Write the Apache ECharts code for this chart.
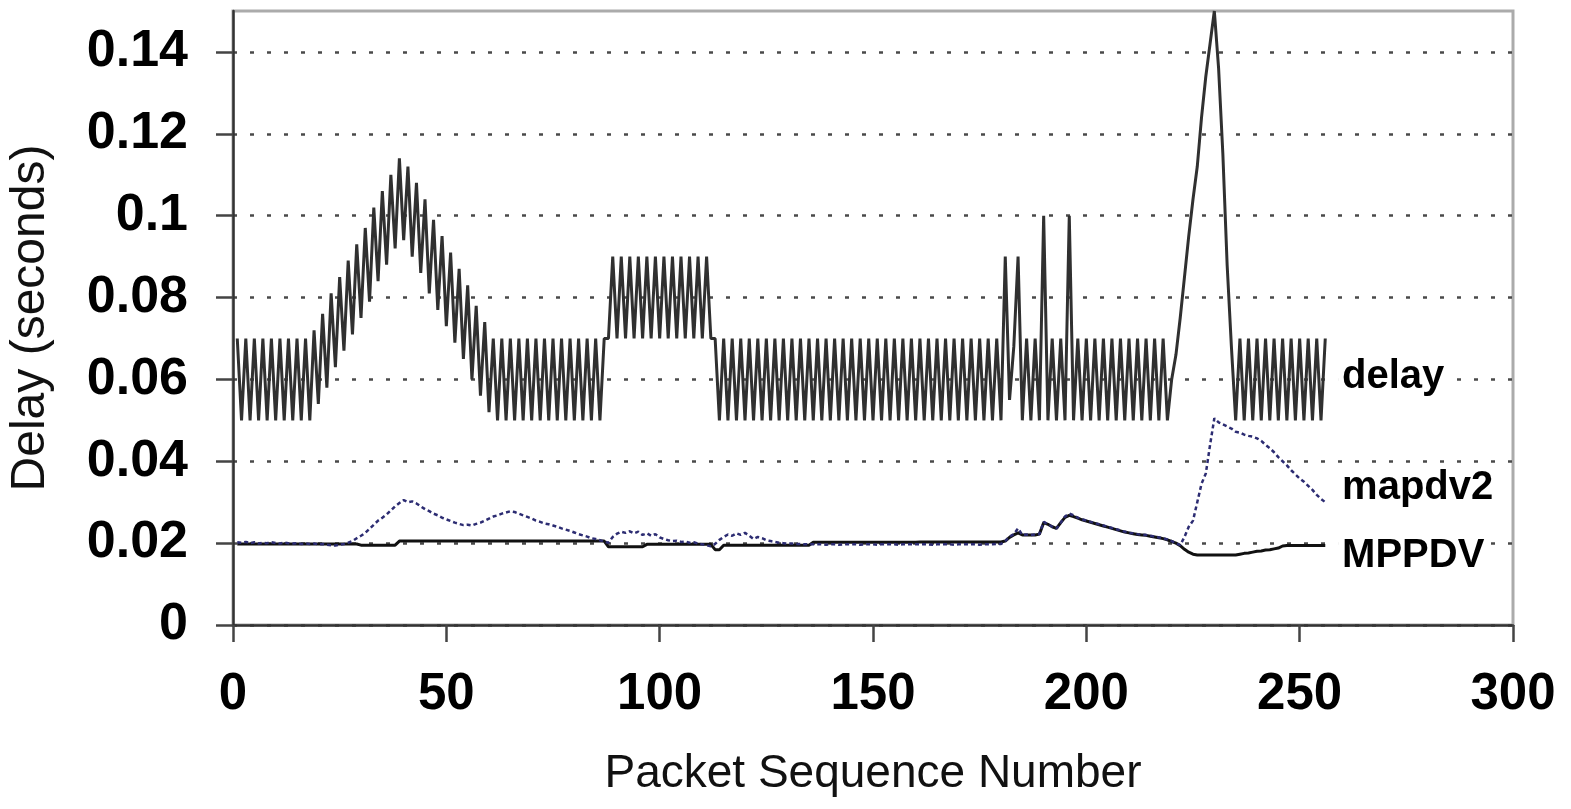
<!DOCTYPE html>
<html>
<head>
<meta charset="utf-8">
<script src="https://cdn.jsdelivr.net/npm/echarts@6/dist/echarts.min.js"></script>
<style>
  html, body { margin: 0; padding: 0; background: #fff; }
  #chart { width: 1571px; height: 809px; }
</style>
</head>
<body>
<div id="chart"></div>
<script>
// delay per packet (seconds), packets 1..256
const delay = [
  .07,.05,.07,.05,.07,.05,.07,.05,.07,.05,.07,.05,.07,.05,.07,.05,
  .07,.05,.072,.054,.076,.058,.081,.063,.085,.067,.089,.071,.093,.075,.097,.079,
  .102,.084,.106,.088,.110,.092,.114,.094,.112,.090,.108,.086,.104,.081,.099,.077,
  .095,.073,.091,.069,.087,.065,.083,.060,.078,.056,.074,.052,.070,.05,.07,.05,
  .07,.05,.07,.05,.07,.05,.07,.05,.07,.05,.07,.05,.07,.05,.07,.05,
  .07,.05,.07,.05,.07,.05,.07,.07,.09,.07,.09,.07,.09,.07,.09,.07,
  .09,.07,.09,.07,.09,.07,.09,.07,.09,.07,.09,.07,.09,.07,.09,.07,
  .07,.05,.07,.05,.07,.05,.07,.05,.07,.05,.07,.05,.07,.05,.07,.05,
  .07,.05,.07,.05,.07,.05,.07,.05,.07,.05,.07,.05,.07,.05,.07,.05,
  .07,.05,.07,.05,.07,.05,.07,.05,.07,.05,.07,.05,.07,.05,.07,.05,
  .07,.05,.07,.05,.07,.05,.07,.05,.07,.05,.07,.05,.07,.05,.07,.05,
  .07,.05,.07,.05,.09,.055,.068,.09,.05,.07,.05,.07,.05,.10,.05,.07,
  .05,.07,.05,.10,.05,.07,.05,.07,.05,.07,.05,.07,.05,.07,.05,.07,
  .05,.07,.05,.07,.05,.07,.05,.07,.05,.07,.05,.06,.066,.075,.085,.095,
  .104,.112,.124,.134,.142,.15,.136,.115,.088,.068,.05,.07,.05,.07,.05,.07,
  .05,.07,.05,.07,.05,.07,.05,.07,.05,.07,.05,.07,.05,.07,.05,.07,
];

const mapdv2 = [
  .0202,.0201,.0203,.0200,.0202,.0199,.0201,.0200,.0202,.0200,.0199,.0201,.0200,.0199,.0200,.0198,
  .0199,.0198,.0199,.0197,.0198,.0196,.0195,.0194,.0196,.0198,.0201,.0205,.0212,.0218,.0225,.0235,
  .0245,.0255,.0262,.0270,.0280,.0290,.0298,.0305,.0300,.0302,.0297,.0290,.0283,.0278,.0272,.0268,
  .0262,.0258,.0254,.0250,.0247,.0244,.0245,.0243,.0247,.0250,.0255,.0260,.0265,.0268,.0272,.0275,
  .0278,.0276,.0272,.0268,.0264,.0260,.0255,.0252,.0248,.0246,.0243,.0240,.0236,.0233,.0230,.0226,
  .0222,.0219,.0216,.0212,.0210,.0207,.0204,.0201,.0215,.0223,.0228,.0225,.0229,.0224,.0228,.0220,
  .0224,.0218,.0222,.0214,.0210,.0207,.0205,.0206,.0203,.0204,.0201,.0202,.0199,.0197,.0195,.0192,
  .0198,.0208,.0215,.0221,.0218,.0224,.0220,.0225,.0218,.0210,.0215,.0212,.0207,.0205,.0203,.0201,
  .0200,.0199,.0199,.0198,.0198,.0197,.0197,.0197,.0197,.0197,.0196,.0197,.0197,.0196,.0197,.0197,
  .0197,.0197,.0196,.0197,.0197,.0197,.0196,.0197,.0197,.0197,.0197,.0196,.0197,.0197,.0197,.0197,
  .0197,.0197,.0197,.0196,.0197,.0197,.0197,.0197,.0196,.0197,.0197,.0197,.0197,.0197,.0196,.0197,
  .0197,.0197,.0198,.0198,.0205,.0216,.0222,.0236,.0220,.0221,.0220,.0221,.0222,.0252,.0246,.0240,
  .0236,.0250,.0265,.0272,.0268,.0262,.0258,.0255,.0252,.0249,.0246,.0243,.0240,.0237,.0234,.0231,
  .0228,.0225,.0224,.0222,.0221,.0220,.0218,.0216,.0214,.0212,.0209,.0205,.0200,.0195,.0215,.0240,
  .0255,.0300,.0345,.0370,.0440,.0505,.0495,.0490,.0485,.0480,.0472,.0470,.0465,.0462,.0460,.0456,
  .0450,.0440,.0432,.0422,.0410,.0400,.0390,.0378,.0368,.0358,.0350,.0340,.0330,.0318,.0308,.0300,
];

const mppdv = [
  .0198,.0198,.0198,.0198,.0198,.0198,.0198,.0198,.0198,.0198,.0198,.0198,.0198,.0198,.0198,.0198,
  .0198,.0198,.0198,.0198,.0198,.0198,.0198,.0198,.0198,.0198,.0198,.0198,.0198,.0195,.0195,.0195,
  .0195,.0195,.0195,.0195,.0195,.0195,.0205,.0205,.0205,.0205,.0205,.0205,.0205,.0205,.0205,.0205,
  .0205,.0205,.0205,.0205,.0205,.0205,.0205,.0205,.0205,.0205,.0205,.0205,.0205,.0205,.0205,.0205,
  .0205,.0205,.0205,.0205,.0205,.0205,.0205,.0205,.0205,.0205,.0205,.0205,.0205,.0205,.0205,.0205,
  .0205,.0205,.0205,.0205,.0205,.0205,.0205,.0191,.0191,.0191,.0191,.0191,.0191,.0191,.0191,.0191,
  .0197,.0197,.0197,.0197,.0197,.0197,.0197,.0197,.0197,.0197,.0197,.0197,.0197,.0197,.0197,.0197,
  .0184,.0184,.0195,.0195,.0195,.0195,.0195,.0195,.0195,.0195,.0195,.0195,.0195,.0195,.0195,.0195,
  .0195,.0195,.0195,.0195,.0195,.0195,.0195,.0202,.0202,.0202,.0202,.0202,.0202,.0202,.0202,.0202,
  .0202,.0202,.0202,.0202,.0202,.0202,.0202,.0202,.0202,.0202,.0202,.0202,.0202,.0202,.0202,.0202,
  .0203,.0203,.0203,.0203,.0203,.0203,.0203,.0203,.0203,.0203,.0203,.0203,.0203,.0203,.0203,.0203,
  .0203,.0203,.0203,.0203,.0205,.0214,.0220,.0225,.0220,.0220,.0220,.0220,.0222,.0250,.0246,.0240,
  .0236,.0250,.0263,.0268,.0265,.0261,.0257,.0254,.0251,.0248,.0245,.0242,.0239,.0236,.0233,.0230,
  .0227,.0225,.0223,.0221,.0220,.0219,.0217,.0215,.0213,.0211,.0208,.0204,.0200,.0194,.0185,.0178,
  .0173,.0171,.0171,.0171,.0171,.0171,.0171,.0171,.0171,.0171,.0171,.0173,.0175,.0176,.0178,.0180,
  .0181,.0183,.0184,.0186,.0188,.0193,.0194,.0194,.0194,.0194,.0194,.0194,.0194,.0194,.0194,.0194,
];

const yTicks = [0, 0.02, 0.04, 0.06, 0.08, 0.1, 0.12, 0.14];
const xTicks = [0, 50, 100, 150, 200, 250, 300];

// packet sequence numbers start at 1
const pairs = (arr) => arr.map((v, i) => [i + 1, v]);

const chart = echarts.init(document.getElementById('chart'));
const labelFont = '"Liberation Sans", Arial, sans-serif';

const option = {
  backgroundColor: '#fff',
  animation: false,
  grid: {
    left: 233, right: 58, top: 11, bottom: 184,
    outerBoundsMode: 'none',
    containLabel: false,
    show: true,
    borderColor: '#ababab',
    borderWidth: 3,
    backgroundColor: 'transparent',
  },
  xAxis: {
    type: 'value',
    min: 0, max: 300, interval: 50,
    name: 'Packet Sequence Number',
    nameLocation: 'middle',
    nameGap: 126,
    nameTextStyle: { fontFamily: labelFont, fontSize: 46, color: '#111' },
    axisLine: { lineStyle: { color: '#333', width: 2.5 } },
    axisTick: { show: true, inside: false, length: 17, lineStyle: { color: '#444', width: 2.5 } },
    axisLabel: {
      fontFamily: labelFont, fontSize: 51, fontWeight: 'bold', color: '#000', margin: 44,
      customValues: xTicks,
    },
    splitLine: { show: false },
  },
  yAxis: {
    type: 'value',
    min: 0, max: 0.15, interval: 0.02,
    name: 'Delay (seconds)',
    nameLocation: 'middle',
    nameRotate: 90,
    nameGap: 178,
    nameTextStyle: { fontFamily: labelFont, fontSize: 48, color: '#111' },
    axisLine: { show: true, lineStyle: { color: '#333', width: 2.5 } },
    axisTick: {
      show: true, inside: false, length: 17,
      lineStyle: { color: '#444', width: 2.5 },
      customValues: yTicks,
    },
    axisLabel: {
      fontFamily: labelFont, fontSize: 52, fontWeight: 'bold', color: '#000', margin: 45,
      customValues: yTicks,
      formatter: (v) => String(+v.toFixed(2)),
    },
    splitLine: { show: true, lineStyle: { color: '#4a4a4a', width: 2.5, type: [4, 13] } },
  },
  series: [
    {
      name: 'delay', type: 'line', data: pairs(delay),
      showSymbol: false, symbol: 'none',
      lineStyle: { color: '#303030', width: 3 },
      z: 2,
    },
    {
      name: 'MPPDV', type: 'line', data: pairs(mppdv),
      showSymbol: false, symbol: 'none',
      lineStyle: { color: '#111', width: 3 },
      z: 3,
    },
    {
      name: 'mapdv2', type: 'line', data: pairs(mapdv2),
      showSymbol: false, symbol: 'none',
      lineStyle: { color: '#2c2c72', width: 2.5, type: [4, 3] },
      z: 4,
    },
  ],
};
chart.setOption(option);

// series name labels at the right end of the lines
const names = ['delay', 'mapdv2', 'MPPDV'];
const nameAt = [[259, 0.0605], [259, 0.0335], [259, 0.0168]];
chart.setOption({
  graphic: names.map((t, i) => {
    const p = chart.convertToPixel({ gridIndex: 0 }, nameAt[i]);
    return {
      type: 'text',
      x: p[0], y: p[1],
      z: 10,
      style: {
        text: t,
        font: 'bold 40px ' + labelFont,
        fill: '#000',
        verticalAlign: 'middle',
        align: 'left',
        backgroundColor: '#fff',
        padding: [0, 4, 0, 4],
      },
    };
  }),
});
</script>
</body>
</html>
